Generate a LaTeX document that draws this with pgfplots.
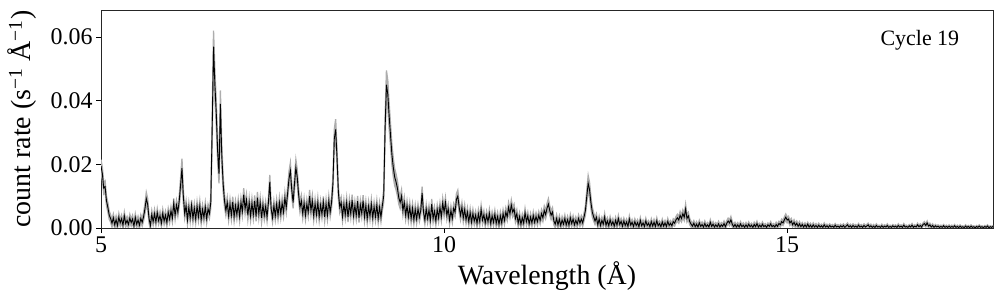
\documentclass[border=0pt]{standalone}
\usepackage{fontspec}
\setmainfont{Liberation Serif}
\usepackage{pgfplots}
\usepackage{pgfplotstable}
\pgfplotsset{compat=1.18}
\usepgfplotslibrary{fillbetween}
\pgfplotstableread[row sep=\\]{
x y e\\
5.00 19.5 2.0\\5.02 17.0 2.0\\5.04 12.5 1.8\\5.06 13.0 1.8\\5.08 8.5 1.5\\5.10 6.5 1.5\\5.12 4.0 1.3\\5.14 3.0 1.2\\5.16 1.5 1.2\\5.18 3.2 1.2\\
5.20 1.0 1.2\\5.22 2.6 1.2\\5.24 0.8 1.1\\5.26 3.4 1.2\\5.28 1.6 1.1\\5.30 2.9 1.2\\5.32 0.9 1.1\\5.34 3.8 1.2\\5.36 1.4 1.1\\5.38 2.4 1.2\\
5.40 1.1 1.1\\5.42 3.1 1.2\\5.44 1.7 1.1\\5.46 2.8 1.2\\5.48 0.6 1.1\\5.50 3.3 1.2\\5.52 1.2 1.1\\5.54 2.5 1.2\\5.56 0.9 1.1\\5.58 3.0 1.2\\
5.60 1.8 1.2\\5.62 3.5 1.3\\5.64 6.0 1.6\\5.66 9.2 2.0\\5.68 7.5 1.8\\5.70 3.0 1.4\\5.72 0.8 1.2\\5.74 4.2 1.3\\5.76 2.0 1.2\\5.78 4.5 1.3\\
5.80 1.9 1.2\\5.82 4.8 1.3\\5.84 2.3 1.2\\5.86 3.9 1.3\\5.88 1.5 1.2\\5.90 4.6 1.3\\5.92 2.2 1.2\\5.94 4.0 1.3\\5.96 1.7 1.2\\5.98 4.9 1.3\\
6.00 2.8 1.3\\6.02 5.4 1.4\\6.04 3.1 1.3\\6.06 7.8 1.5\\6.08 4.0 1.4\\6.10 7.2 1.5\\6.12 5.0 1.4\\6.14 8.5 1.7\\6.16 13.5 2.3\\6.18 18.8 3.0\\
6.20 10.0 2.2\\6.22 4.5 1.5\\6.24 7.0 1.6\\6.26 2.5 1.4\\6.28 6.5 1.5\\6.30 3.2 1.4\\6.32 7.2 1.6\\6.34 3.0 1.4\\6.36 6.2 1.5\\6.38 2.8 1.4\\
6.40 6.8 1.5\\6.42 3.5 1.4\\6.44 7.0 1.6\\6.46 2.6 1.4\\6.48 5.8 1.5\\6.50 3.3 1.4\\6.52 6.6 1.5\\6.54 2.9 1.4\\6.56 6.0 1.5\\6.58 4.5 1.5\\
6.60 8.0 1.8\\6.62 31.0 4.0\\6.64 57.0 5.0\\6.66 45.0 4.5\\6.68 36.0 4.0\\6.70 24.0 3.5\\6.72 17.0 3.0\\6.74 39.0 4.2\\6.76 23.0 3.5\\6.78 14.0 2.5\\
6.80 8.5 2.0\\6.82 5.5 1.6\\6.84 8.0 1.7\\6.86 3.8 1.5\\6.88 7.5 1.6\\6.90 4.0 1.5\\6.92 8.2 1.6\\6.94 3.5 1.5\\6.96 7.0 1.6\\6.98 4.2 1.5\\
7.00 7.5 1.6\\7.02 3.6 1.5\\7.04 8.0 1.6\\7.06 5.2 1.6\\7.08 10.5 2.0\\7.10 6.0 1.7\\7.12 8.8 1.8\\7.14 4.0 1.5\\7.16 8.0 1.6\\7.18 3.8 1.5\\
7.20 7.8 1.6\\7.22 4.2 1.5\\7.24 8.5 1.7\\7.26 3.6 1.5\\7.28 9.5 1.8\\7.30 4.5 1.6\\7.32 8.0 1.7\\7.34 3.2 1.5\\7.36 7.2 1.6\\7.38 4.0 1.5\\
7.40 6.8 1.6\\7.42 3.5 1.5\\7.44 8.0 1.7\\7.46 14.5 2.2\\7.48 6.0 1.6\\7.50 3.2 1.5\\7.52 7.0 1.6\\7.54 3.8 1.5\\7.56 7.5 1.6\\7.58 4.0 1.5\\
7.60 8.0 1.7\\7.62 4.5 1.6\\7.64 7.8 1.7\\7.66 5.0 1.6\\7.68 9.5 1.8\\7.70 6.5 1.8\\7.72 11.0 2.0\\7.74 15.5 2.3\\7.76 18.0 2.5\\7.78 12.0 2.2\\
7.80 8.0 1.8\\7.82 14.0 2.3\\7.84 19.0 2.5\\7.86 16.0 2.4\\7.88 10.5 2.0\\7.90 6.5 1.7\\7.92 8.5 1.8\\7.94 4.5 1.6\\7.96 7.8 1.7\\7.98 4.0 1.5\\
8.00 7.5 1.6\\8.02 5.0 1.6\\8.04 10.0 2.0\\8.06 5.5 1.6\\8.08 8.5 1.8\\8.10 3.8 1.5\\8.12 7.6 1.6\\8.14 4.2 1.5\\8.16 8.0 1.7\\8.18 3.6 1.5\\
8.20 7.2 1.6\\8.22 4.4 1.5\\8.24 8.2 1.7\\8.26 3.5 1.5\\8.28 7.5 1.6\\8.30 4.0 1.5\\8.32 8.5 1.7\\8.34 5.0 1.6\\8.36 8.0 1.8\\8.38 14.0 2.3\\
8.40 28.0 3.0\\8.42 31.0 3.2\\8.44 22.0 2.8\\8.46 11.0 2.0\\8.48 6.5 1.7\\8.50 8.0 1.7\\8.52 3.6 1.5\\8.54 7.4 1.6\\8.56 4.2 1.5\\8.58 8.0 1.6\\
8.60 3.4 1.5\\8.62 7.6 1.6\\8.64 4.5 1.5\\8.66 8.8 1.7\\8.68 3.8 1.5\\8.70 7.0 1.6\\8.72 4.0 1.5\\8.74 8.4 1.7\\8.76 3.2 1.5\\8.78 7.2 1.6\\
8.80 4.6 1.5\\8.82 8.6 1.7\\8.84 3.5 1.5\\8.86 7.0 1.6\\8.88 3.0 1.5\\8.90 6.8 1.6\\8.92 3.8 1.5\\8.94 7.5 1.6\\8.96 3.2 1.5\\8.98 6.6 1.6\\
9.00 3.6 1.5\\9.02 7.2 1.6\\9.04 3.0 1.5\\9.06 6.5 1.6\\9.08 3.4 1.5\\9.10 7.0 1.6\\9.12 10.0 2.0\\9.14 31.0 3.8\\9.16 45.0 4.5\\9.18 42.0 4.3\\
9.20 35.0 4.0\\9.22 29.0 3.6\\9.24 23.0 3.2\\9.26 19.0 2.9\\9.28 16.0 2.7\\9.30 14.5 2.5\\9.32 12.5 2.4\\9.34 9.5 2.0\\9.36 8.0 1.9\\9.38 10.0 2.0\\
9.40 5.5 1.6\\9.42 8.0 1.7\\9.44 4.0 1.5\\9.46 7.0 1.6\\9.48 3.5 1.5\\9.50 6.5 1.6\\9.52 3.0 1.5\\9.54 6.2 1.5\\9.56 2.6 1.4\\9.58 5.8 1.5\\
9.60 2.8 1.4\\9.62 6.0 1.5\\9.64 3.4 1.4\\9.66 5.5 1.5\\9.68 11.0 2.0\\9.70 5.0 1.5\\9.72 2.5 1.4\\9.74 6.0 1.5\\9.76 3.0 1.4\\9.78 5.6 1.5\\
9.80 2.4 1.4\\9.82 7.5 1.6\\9.84 3.0 1.4\\9.86 5.2 1.5\\9.88 2.2 1.4\\9.90 5.8 1.5\\9.92 3.2 1.4\\9.94 6.5 1.5\\9.96 3.5 1.4\\9.98 7.8 1.6\\
10.00 5.0 1.5\\10.02 8.0 1.6\\10.04 4.0 1.5\\10.06 6.0 1.5\\10.08 2.5 1.4\\10.10 5.5 1.5\\10.12 3.0 1.4\\10.14 6.2 1.5\\10.16 5.0 1.5\\10.18 9.0 1.8\\
10.20 10.0 1.9\\10.22 6.5 1.6\\10.24 4.0 1.5\\10.26 6.5 1.5\\10.28 3.2 1.4\\10.30 5.8 1.5\\10.32 2.6 1.3\\10.34 5.0 1.4\\10.36 2.0 1.3\\10.38 4.8 1.4\\
10.40 1.8 1.3\\10.42 4.5 1.4\\10.44 2.2 1.3\\10.46 4.0 1.3\\10.48 1.5 1.3\\10.50 4.4 1.4\\10.52 2.0 1.3\\10.54 5.8 1.4\\10.56 2.5 1.3\\10.58 4.2 1.3\\
10.60 1.6 1.2\\10.62 4.0 1.3\\10.64 2.0 1.2\\10.66 4.6 1.3\\10.68 1.4 1.2\\10.70 3.8 1.3\\10.72 1.8 1.2\\10.74 4.3 1.3\\10.76 1.5 1.2\\10.78 3.6 1.3\\
10.80 1.2 1.2\\10.82 3.8 1.3\\10.84 1.6 1.2\\10.86 4.5 1.3\\10.88 2.4 1.3\\10.90 5.0 1.4\\10.92 3.5 1.3\\10.94 6.5 1.5\\10.96 4.5 1.4\\10.98 7.2 1.6\\
11.00 5.0 1.5\\11.02 6.0 1.5\\11.04 3.0 1.3\\11.06 4.5 1.3\\11.08 1.5 1.2\\11.10 3.6 1.2\\11.12 1.2 1.1\\11.14 3.2 1.2\\11.16 1.5 1.1\\11.18 4.8 1.3\\
11.20 2.0 1.2\\11.22 3.8 1.2\\11.24 1.3 1.1\\11.26 3.4 1.2\\11.28 1.6 1.1\\11.30 3.9 1.2\\11.32 1.8 1.1\\11.34 3.6 1.2\\11.36 2.0 1.2\\11.38 4.0 1.2\\
11.40 2.4 1.2\\11.42 4.5 1.3\\11.44 3.2 1.2\\11.46 5.5 1.4\\11.48 4.2 1.3\\11.50 6.2 1.5\\11.52 7.5 1.7\\11.54 5.5 1.5\\11.56 4.0 1.4\\11.58 5.0 1.4\\
11.60 2.2 1.2\\11.62 1.2 1.1\\11.64 3.0 1.2\\11.66 1.0 1.1\\11.68 2.8 1.1\\11.70 0.8 1.0\\11.72 2.5 1.1\\11.74 1.2 1.0\\11.76 3.0 1.1\\11.78 1.0 1.0\\
11.80 2.6 1.1\\11.82 0.9 1.0\\11.84 3.2 1.1\\11.86 1.4 1.0\\11.88 2.8 1.1\\11.90 1.0 1.0\\11.92 2.4 1.1\\11.94 1.2 1.0\\11.96 3.0 1.1\\11.98 1.5 1.0\\
12.00 2.8 1.1\\12.02 1.6 1.1\\12.04 3.5 1.2\\12.06 5.5 1.5\\12.08 10.0 2.0\\12.10 14.0 2.5\\12.12 12.0 2.3\\12.14 8.0 1.9\\12.16 5.0 1.5\\12.18 3.5 1.3\\
12.20 2.2 1.1\\12.22 3.4 1.1\\12.24 1.0 1.0\\12.26 2.8 1.0\\12.28 0.8 1.0\\12.30 2.4 1.0\\12.32 1.2 1.0\\12.34 3.5 1.1\\12.36 0.9 1.0\\12.38 2.2 1.0\\
12.40 0.7 0.9\\12.42 2.6 1.0\\12.44 1.0 0.9\\12.46 2.0 1.0\\12.48 0.6 0.9\\12.50 2.4 1.0\\12.52 0.9 0.9\\12.54 3.0 1.0\\12.56 1.1 0.9\\12.58 2.1 0.9\\
12.60 0.6 0.9\\12.62 2.2 0.9\\12.64 0.8 0.9\\12.66 1.9 0.9\\12.68 0.5 0.8\\12.70 2.8 1.0\\12.72 0.9 0.9\\12.74 1.8 0.9\\12.76 0.5 0.8\\12.78 2.0 0.9\\
12.80 0.8 0.9\\12.82 1.7 0.9\\12.84 0.4 0.8\\12.86 2.4 0.9\\12.88 0.7 0.8\\12.90 1.6 0.9\\12.92 0.5 0.8\\12.94 2.2 0.9\\12.96 0.8 0.8\\12.98 1.5 0.8\\
13.00 0.4 0.8\\13.02 2.0 0.9\\13.04 0.6 0.8\\13.06 1.8 0.9\\13.08 0.5 0.8\\13.10 2.3 0.9\\13.12 0.7 0.8\\13.14 1.4 0.8\\13.16 0.4 0.8\\13.18 1.9 0.9\\
13.20 0.6 0.8\\13.22 1.6 0.8\\13.24 0.5 0.8\\13.26 2.1 0.9\\13.28 0.8 0.8\\13.30 1.5 0.8\\13.32 0.7 0.8\\13.34 2.0 0.9\\13.36 1.5 0.9\\13.38 2.6 1.0\\
13.40 3.2 1.1\\13.42 2.5 1.0\\13.44 4.0 1.2\\13.46 3.0 1.1\\13.48 4.5 1.2\\13.50 3.4 1.1\\13.52 6.0 1.5\\13.54 3.0 1.1\\13.56 3.8 1.1\\13.58 2.0 1.0\\
13.60 1.2 0.9\\13.62 0.6 0.8\\13.64 1.5 0.8\\13.66 0.4 0.8\\13.68 1.2 0.8\\13.70 0.3 0.7\\13.72 1.6 0.8\\13.74 0.5 0.7\\13.76 1.1 0.8\\13.78 0.3 0.7\\
13.80 1.4 0.8\\13.82 0.4 0.7\\13.84 1.0 0.7\\13.86 0.3 0.7\\13.88 1.8 0.8\\13.90 0.5 0.7\\13.92 1.2 0.8\\13.94 0.3 0.7\\13.96 1.0 0.7\\13.98 0.4 0.7\\
14.00 1.3 0.8\\14.02 0.3 0.7\\14.04 1.0 0.7\\14.06 0.5 0.7\\14.08 1.4 0.8\\14.10 0.4 0.7\\14.12 1.5 0.8\\14.14 2.2 0.9\\14.16 1.6 0.9\\14.18 2.6 1.0\\
14.20 1.2 0.8\\14.22 0.4 0.7\\14.24 1.1 0.7\\14.26 0.3 0.7\\14.28 1.0 0.7\\14.30 0.3 0.6\\14.32 1.3 0.7\\14.34 0.4 0.6\\14.36 0.9 0.7\\14.38 0.2 0.6\\
14.40 1.0 0.7\\14.42 0.3 0.6\\14.44 1.2 0.7\\14.46 0.4 0.6\\14.48 0.9 0.6\\14.50 0.2 0.6\\14.52 1.1 0.7\\14.54 0.4 0.6\\14.56 1.4 0.7\\14.58 0.3 0.6\\
14.60 0.9 0.6\\14.62 0.3 0.6\\14.64 1.2 0.7\\14.66 0.4 0.6\\14.68 0.8 0.6\\14.70 0.2 0.6\\14.72 1.0 0.6\\14.74 0.5 0.6\\14.76 1.3 0.7\\14.78 0.4 0.6\\
14.80 0.8 0.6\\14.82 0.3 0.6\\14.84 1.1 0.7\\14.86 0.5 0.6\\14.88 1.4 0.7\\14.90 1.0 0.7\\14.92 2.0 0.8\\14.94 1.6 0.8\\14.96 2.6 0.9\\14.98 3.4 1.0\\
15.00 2.5 0.9\\15.02 2.8 0.9\\15.04 1.6 0.8\\15.06 2.2 0.8\\15.08 1.0 0.7\\15.10 1.8 0.8\\15.12 0.8 0.7\\15.14 1.5 0.7\\15.16 0.5 0.6\\15.18 1.3 0.7\\
15.20 0.4 0.6\\15.22 1.1 0.6\\15.24 0.3 0.6\\15.26 1.0 0.6\\15.28 0.3 0.6\\15.30 1.2 0.6\\15.32 0.3 0.6\\15.34 0.9 0.6\\15.36 0.2 0.5\\15.38 1.0 0.6\\
15.40 0.3 0.5\\15.42 0.8 0.6\\15.44 0.2 0.5\\15.46 0.9 0.6\\15.48 0.3 0.5\\15.50 0.7 0.5\\15.52 0.2 0.5\\15.54 1.0 0.6\\15.56 0.3 0.5\\15.58 0.7 0.5\\
15.60 0.2 0.5\\15.62 0.8 0.5\\15.64 0.3 0.5\\15.66 0.6 0.5\\15.68 0.2 0.5\\15.70 0.9 0.5\\15.72 0.3 0.5\\15.74 0.6 0.5\\15.76 0.2 0.5\\15.78 0.7 0.5\\
15.80 0.3 0.5\\15.82 0.8 0.5\\15.84 0.2 0.5\\15.86 0.6 0.5\\15.88 1.0 0.6\\15.90 0.3 0.5\\15.92 0.7 0.5\\15.94 0.2 0.5\\15.96 0.8 0.5\\15.98 0.3 0.5\\
16.00 0.6 0.5\\16.02 0.2 0.5\\16.04 0.9 0.5\\16.06 0.3 0.5\\16.08 0.6 0.5\\16.10 0.2 0.4\\16.12 0.8 0.5\\16.14 0.3 0.5\\16.16 0.6 0.5\\16.18 1.0 0.5\\
16.20 0.3 0.5\\16.22 0.7 0.5\\16.24 0.2 0.4\\16.26 0.6 0.5\\16.28 0.2 0.4\\16.30 0.8 0.5\\16.32 0.3 0.4\\16.34 0.5 0.4\\16.36 0.2 0.4\\16.38 0.7 0.5\\
16.40 0.2 0.4\\16.42 0.6 0.4\\16.44 0.3 0.4\\16.46 0.8 0.5\\16.48 0.2 0.4\\16.50 0.5 0.4\\16.52 0.2 0.4\\16.54 0.7 0.4\\16.56 0.3 0.4\\16.58 0.6 0.4\\
16.60 0.2 0.4\\16.62 0.8 0.5\\16.64 0.3 0.4\\16.66 0.6 0.4\\16.68 0.2 0.4\\16.70 0.9 0.5\\16.72 0.3 0.4\\16.74 0.5 0.4\\16.76 0.2 0.4\\16.78 0.7 0.4\\
16.80 0.3 0.4\\16.82 0.9 0.5\\16.84 0.2 0.4\\16.86 0.6 0.4\\16.88 0.3 0.4\\16.90 1.0 0.5\\16.92 0.4 0.4\\16.94 0.8 0.5\\16.96 0.3 0.4\\16.98 1.1 0.5\\
17.00 1.4 0.6\\17.02 0.8 0.5\\17.04 1.6 0.6\\17.06 0.6 0.5\\17.08 1.0 0.5\\17.10 0.3 0.4\\17.12 0.8 0.5\\17.14 0.2 0.4\\17.16 0.7 0.4\\17.18 0.3 0.4\\
17.20 0.6 0.4\\17.22 0.2 0.4\\17.24 0.5 0.4\\17.26 0.2 0.4\\17.28 0.7 0.4\\17.30 0.2 0.4\\17.32 0.5 0.4\\17.34 0.2 0.3\\17.36 0.6 0.4\\17.38 0.2 0.3\\
17.40 0.5 0.4\\17.42 0.2 0.3\\17.44 0.7 0.4\\17.46 0.2 0.3\\17.48 0.5 0.4\\17.50 0.1 0.3\\17.52 0.6 0.4\\17.54 0.2 0.3\\17.56 0.4 0.3\\17.58 0.1 0.3\\
17.60 0.6 0.4\\17.62 0.2 0.3\\17.64 0.5 0.3\\17.66 0.1 0.3\\17.68 0.6 0.4\\17.70 0.2 0.3\\17.72 0.4 0.3\\17.74 0.1 0.3\\17.76 0.5 0.3\\17.78 0.2 0.3\\
17.80 0.6 0.4\\17.82 0.2 0.3\\17.84 0.4 0.3\\17.86 0.1 0.3\\17.88 0.5 0.3\\17.90 0.2 0.3\\17.92 0.6 0.4\\17.94 0.1 0.3\\17.96 0.4 0.3\\17.98 0.2 0.3\\18.00 0.5 0.3\\
}\spec
\begin{document}
\begin{tikzpicture}
\begin{axis}[
  at={(0,0)}, anchor=south west,
  width=892bp, height=218bp, scale only axis,
  xmin=5, xmax=18, ymin=0, ymax=68.5,
  xtick={5,10,15}, xticklabels={5,10,15},
  ytick={0,20,40,60}, yticklabels={0.00,0.02,0.04,0.06},
  minor tick num=0,
  tick align=outside, xtick pos=bottom, ytick pos=left,
  major tick length=5bp,
  tick style={black, line width=0.8bp},
  axis line style={line width=0.8bp, black!85},
  tick label style={font=\fontsize{24}{28}\selectfont},
  label style={font=\fontsize{28}{33}\selectfont},
  xlabel={Wavelength (Å)},
  ylabel={count rate (s\textsuperscript{−1} Å\textsuperscript{−1})},
  xlabel style={yshift=-2bp},
  ylabel style={yshift=7bp},
]
\addplot[name path=up, draw=black!32, line width=1.3bp] table[x=x, y expr=\thisrow{y}+\thisrow{e}] {\spec};
\addplot[name path=lo, draw=black!32, line width=1.3bp] table[x=x, y expr=\thisrow{y}-\thisrow{e}] {\spec};
\addplot[black!32] fill between[of=up and lo];
\addplot[black, line width=0.9bp] table[x=x, y=y] {\spec};
\node[font=\fontsize{22}{26}\selectfont] at (rel axis cs:0.918,0.86) {Cycle 19};
\end{axis}
\pgfresetboundingbox
\useasboundingbox (-101bp,-71bp) rectangle (903bp,228bp);
\end{tikzpicture}
\end{document}
